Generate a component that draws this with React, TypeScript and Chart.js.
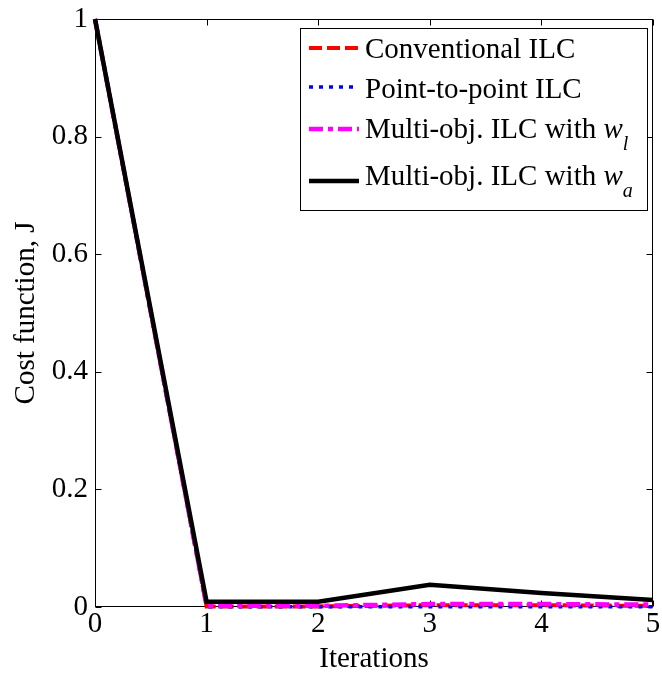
import React, { useEffect, useRef } from 'react';
import { Chart, registerables } from 'chart.js';

Chart.register(...registerables);

const iterations = [0, 1, 2, 3, 4, 5];
const conventionalILC = [1, 0.001, 0.001, 0.003, 0.003, 0.002];
const pointToPointILC = [1, 0.0005, 0.0005, 0.0005, 0.0005, 0.0005];
const multiObjWl = [1, 0.002, 0.002, 0.005, 0.005, 0.004];
const multiObjWa = [1, 0.009, 0.009, 0.038, 0.024, 0.012];

const seriesLabels = ['Conventional ILC', 'Point-to-point ILC', 'Multi-obj. ILC with ', 'Multi-obj. ILC with '];
const seriesSymbols = ['', '', 'w', 'w'];
const seriesSubscripts = ['', '', 'l', 'a'];

const xTicks = [0, 1, 2, 3, 4, 5];
const yTicks = [0, 0.2, 0.4, 0.6, 0.8, 1];
const xTitle = 'Iterations';
const yTitle = 'Cost function, J';

const FONT = '"Liberation Serif", "Times New Roman", serif';

const styles = [
  { color: '#ff0000', width: 4, dash: [13, 5] },
  { color: '#0000ff', width: 3.5, dash: [4, 6] },
  { color: '#ff00ff', width: 4.5, dash: [14, 5, 5, 5] },
  { color: '#000000', width: 4.5, dash: [] as number[] },
];

const frameTicksPlugin = {
  id: 'frameTicks',
  beforeDatasetsDraw(chart: any) {
    const { ctx, chartArea: a, scales } = chart;
    ctx.save();
    ctx.strokeStyle = '#000';
    ctx.lineWidth = 1;
    ctx.setLineDash([]);
    const L = Math.round(a.left) + 0.5, R = Math.round(a.right) - 0.5;
    const T = Math.round(a.top) + 0.5, B = Math.round(a.bottom) - 0.5;
    ctx.strokeRect(L, T, R - L, B - T);
    const tl = 6;
    ctx.beginPath();
    xTicks.forEach((v) => {
      const x = Math.round(scales.x.getPixelForValue(v)) + 0.5;
      ctx.moveTo(x, B); ctx.lineTo(x, B - tl);
      ctx.moveTo(x, T); ctx.lineTo(x, T + tl);
    });
    yTicks.forEach((v) => {
      const y = Math.round(scales.y.getPixelForValue(v)) + 0.5;
      ctx.moveTo(L, y); ctx.lineTo(L + tl, y);
      ctx.moveTo(R, y); ctx.lineTo(R - tl, y);
    });
    ctx.stroke();
    ctx.restore();
  },
};

const legendPlugin = {
  id: 'customLegend',
  afterDraw(chart: any) {
    const { ctx, chartArea: a } = chart;
    ctx.save();
    const mainFont = `29px ${FONT}`;
    const italFont = `italic 29px ${FONT}`;
    const subFont = `italic 20px ${FONT}`;
    let maxW = 0;
    seriesLabels.forEach((lab, i) => {
      ctx.font = mainFont;
      let w = ctx.measureText(lab).width;
      ctx.font = italFont;
      w += ctx.measureText(seriesSymbols[i]).width;
      ctx.font = subFont;
      w += ctx.measureText(seriesSubscripts[i]).width;
      maxW = Math.max(maxW, w);
    });
    const right = Math.round(a.right) - 5;
    const top = Math.round(a.top) + 9;
    const left = Math.round(right - (65 + maxW + 15));
    const height = 182;
    ctx.fillStyle = '#fff';
    ctx.fillRect(left, top, right - left, height);
    ctx.strokeStyle = '#000';
    ctx.lineWidth = 1;
    ctx.strokeRect(left + 0.5, top + 0.5, right - left - 1, height);
    const baselines = [30, 70, 110, 157];
    const sampleOff = [10, 11, 9, 4];
    seriesLabels.forEach((lab, i) => {
      const by = top + baselines[i];
      const sy = by - sampleOff[i];
      const st = styles[i];
      ctx.strokeStyle = st.color;
      ctx.lineWidth = st.width;
      ctx.setLineDash(st.dash);
      ctx.beginPath();
      ctx.moveTo(left + 9, sy);
      ctx.lineTo(left + 59, sy);
      ctx.stroke();
      ctx.setLineDash([]);
      ctx.fillStyle = '#000';
      ctx.textBaseline = 'alphabetic';
      ctx.textAlign = 'left';
      let x = left + 65;
      ctx.font = mainFont;
      ctx.fillText(lab, x, by);
      x += ctx.measureText(lab).width;
      if (seriesSymbols[i]) {
        ctx.font = italFont;
        ctx.fillText(seriesSymbols[i], x, by);
        x += ctx.measureText(seriesSymbols[i]).width;
      }
      if (seriesSubscripts[i]) {
        ctx.font = subFont;
        ctx.fillText(seriesSubscripts[i], x, by + 12);
      }
    });
    ctx.restore();
  },
};

export default function App() {
  const ref = useRef<HTMLCanvasElement | null>(null);
  useEffect(() => {
    if (!ref.current) return;
    const series = [conventionalILC, pointToPointILC, multiObjWl, multiObjWa];
    const orders = [3, 2, 1, 0];
    const chart = new Chart(ref.current, {
      type: 'line',
      data: {
        datasets: series.map((vals, i) => ({
          label: seriesLabels[i] + seriesSymbols[i] + seriesSubscripts[i],
          data: iterations.map((x, j) => ({ x, y: vals[j] })),
          borderColor: styles[i].color,
          backgroundColor: styles[i].color,
          borderWidth: styles[i].width,
          borderDash: styles[i].dash,
          pointRadius: 0,
          tension: 0,
          fill: false,
          order: orders[i],
          clip: 4,
        })),
      },
      options: {
        responsive: false,
        animation: false,
        devicePixelRatio: 1,
        layout: { padding: { top: 19, right: 9, left: 0, bottom: 0 } },
        plugins: { legend: { display: false }, tooltip: { enabled: false } },
        scales: {
          x: {
            type: 'linear',
            min: 0,
            max: 5,
            afterBuildTicks: (s: any) => { s.ticks = xTicks.map((v) => ({ value: v })); },
            afterFit: (s: any) => { s.height = 70; s.paddingLeft = 0; s.paddingRight = 0; },
            grid: { display: false, drawTicks: false },
            border: { display: false },
            ticks: {
              color: '#000',
              font: { family: FONT, size: 29 },
              padding: 0,
              maxRotation: 0,
              autoSkip: false,
              callback: (v: any) => String(v),
            },
            title: {
              display: true,
              text: xTitle,
              color: '#000',
              font: { family: FONT, size: 29 },
              padding: { top: 0, bottom: 0 },
            },
          },
          y: {
            type: 'linear',
            min: 0,
            max: 1,
            afterBuildTicks: (s: any) => { s.ticks = yTicks.map((v) => ({ value: v })); },
            afterFit: (s: any) => { s.width = 95; s.paddingTop = 0; s.paddingBottom = 0; },
            grid: { display: false, drawTicks: false },
            border: { display: false },
            ticks: {
              color: '#000',
              font: { family: FONT, size: 29 },
              padding: 7,
              autoSkip: false,
              callback: (v: any) => String(Number(Number(v).toFixed(1))),
            },
            title: {
              display: true,
              text: yTitle,
              color: '#000',
              font: { family: FONT, size: 29 },
              padding: { top: 9, bottom: 0 },
            },
          },
        },
      },
      plugins: [frameTicksPlugin, legendPlugin],
    } as any);
    return () => chart.destroy();
  }, []);
  return (
    <div style={{ position: 'absolute', left: 0, top: 0, width: 662, height: 677, background: '#fff' }}>
      <canvas ref={ref} width={662} height={677} style={{ display: 'block' }} />
    </div>
  );
}
